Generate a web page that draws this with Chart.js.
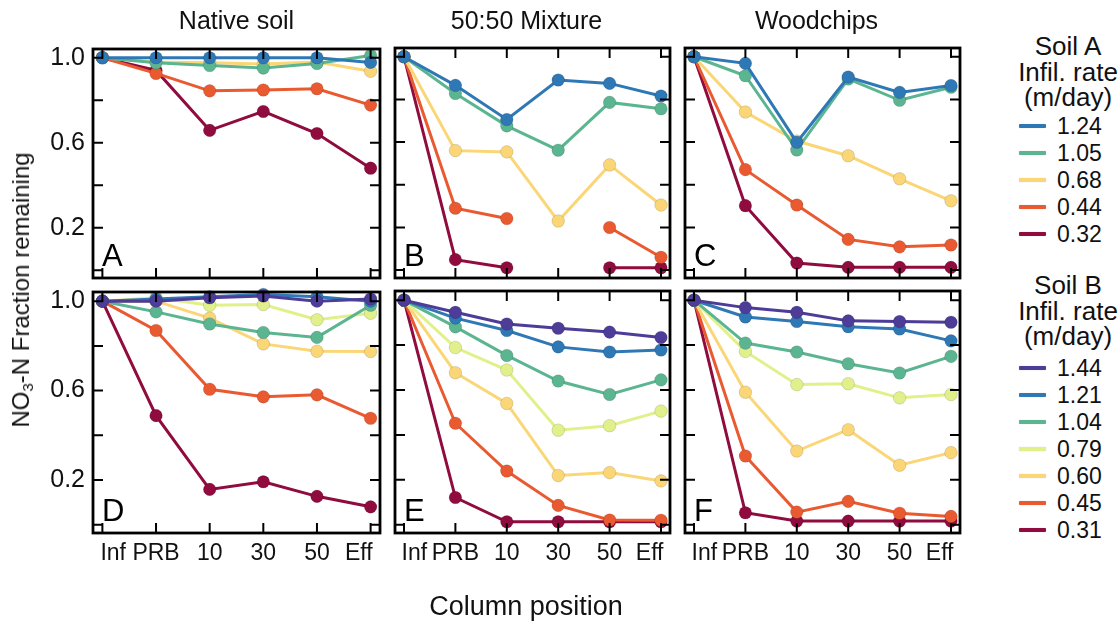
<!DOCTYPE html>
<html><head><meta charset="utf-8">
<script src="https://cdn.jsdelivr.net/npm/chart.js@4.4.1/dist/chart.umd.min.js"></script>
<style>
html,body{margin:0;padding:0;background:#fff;}
body{width:1120px;height:625px;position:relative;overflow:hidden;font-family:"Liberation Sans",Arial,Helvetica,sans-serif;color:#111;}
canvas{position:absolute;}
.t{position:absolute;white-space:nowrap;line-height:1;transform:translate(-50%,-50%);}
.lt{position:absolute;white-space:nowrap;line-height:1;transform:translateY(-50%);}
.ln{position:absolute;height:4px;border-radius:1px;box-shadow:0 0 1px rgba(0,0,0,0.25);}
</style></head><body>
<script>
// ---------- data ----------
const positions = ['Inf', 'PRB', '10', '30', '50', 'Eff'];
const yTickValues = [0, 0.2, 0.4, 0.6, 0.8, 1.0];
const yTickLabels = ['', '0.2', '', '0.6', '', '1.0'];
const panelTitles = ['Native soil', '50:50 Mixture', 'Woodchips'];
const panelLetters = ['A', 'B', 'C', 'D', 'E', 'F'];

const soilARates = ['1.24', '1.05', '0.68', '0.44', '0.32'];
const soilAColors = ['#2f78b6', '#5cb591', '#fbd676', '#ea5a31', '#900b3e'];
const soilBRates = ['1.44', '1.21', '1.04', '0.79', '0.60', '0.45', '0.31'];
const soilBColors = ['#4d3c98', '#2f78b6', '#5cb591', '#e1f08a', '#fbd676', '#ea5a31', '#900b3e'];

// Soil A panels (rows follow soilARates)
const panelA = [
  [1.0, 1.0, 1.0, 1.0, 1.0, 0.978],
  [1.0, 0.976, 0.963, 0.951, 0.973, 1.01],
  [1.0, 0.98, 0.976, 0.97, 0.98, 0.936],
  [1.0, 0.926, 0.844, 0.848, 0.854, 0.777],
  [1.0, 0.94, 0.658, 0.747, 0.643, 0.48]
];
const panelB = [
  [1.0, 0.866, 0.706, 0.891, 0.875, 0.816],
  [1.0, 0.828, 0.676, 0.562, 0.786, 0.756],
  [1.0, 0.560, 0.554, 0.230, 0.493, 0.305],
  [1.0, 0.290, 0.242, null, 0.200, 0.060],
  [1.0, 0.049, 0.011, null, 0.011, 0.011]
];
const panelC = [
  [1.0, 0.969, 0.599, 0.905, 0.833, 0.865],
  [1.0, 0.911, 0.563, 0.896, 0.796, 0.857],
  [1.0, 0.741, 0.605, 0.536, 0.428, 0.325],
  [1.0, 0.471, 0.305, 0.144, 0.109, 0.118],
  [1.0, 0.302, 0.033, 0.013, 0.013, 0.013]
];
// Soil B panels (rows follow soilBRates)
const panelD = [
  [1.0, 1.0, 1.015, 1.023, 1.0, 1.01],
  [1.0, 1.01, 1.02, 1.03, 1.02, 1.0],
  [1.0, 0.952, 0.898, 0.860, 0.838, 0.982],
  [1.0, 1.015, 0.982, 0.985, 0.917, 0.946],
  [1.0, 1.0, 0.924, 0.809, 0.776, 0.775],
  [1.0, 0.869, 0.606, 0.572, 0.581, 0.476],
  [1.0, 0.488, 0.158, 0.192, 0.127, 0.080]
];
const panelE = [
  [1.0, 0.946, 0.894, 0.875, 0.858, 0.834],
  [1.0, 0.920, 0.865, 0.792, 0.769, 0.778],
  [1.0, 0.881, 0.754, 0.640, 0.580, 0.645],
  [1.0, 0.789, 0.689, 0.421, 0.441, 0.506],
  [1.0, 0.677, 0.540, 0.219, 0.232, 0.195],
  [1.0, 0.452, 0.239, 0.086, 0.021, 0.020],
  [1.0, 0.121, 0.013, 0.013, 0.013, 0.013]
];
const panelF = [
  [1.0, 0.967, 0.946, 0.908, 0.905, 0.902],
  [1.0, 0.925, 0.905, 0.882, 0.872, 0.819],
  [1.0, 0.809, 0.769, 0.717, 0.676, 0.750],
  [1.0, 0.772, 0.624, 0.628, 0.565, 0.580],
  [1.0, 0.590, 0.328, 0.423, 0.265, 0.321],
  [1.0, 0.306, 0.056, 0.104, 0.051, 0.037],
  [1.0, 0.053, 0.016, 0.016, 0.016, 0.016]
];

// ---------- layout ----------
const FONT = '"Liberation Sans", Arial, Helvetica, sans-serif';
const X_TICK_SIZE = 23, Y_TICK_SIZE = 25;
const frameLeft = [93, 383, 673];
const frameW = 287;
const frameTop = [48, 291];
const frameH = 242;
const yMin = -0.037, yMax = 1.041;
const xMin = -0.175, xMax = 5.175;
const pxPerUnit = frameW / (xMax - xMin);

// first label starts near its tick, last label ends near its tick
const measureCtx = document.createElement('canvas').getContext('2d');
measureCtx.font = X_TICK_SIZE + 'px ' + FONT;
const xLabelValues = positions.map((p, i) => {
  const half = (measureCtx.measureText(p).width / 2 - 2) / pxPerUnit;
  if (i === 0) return i + half;
  if (i === positions.length - 1) return i - half;
  return i;
});

const framePlugin = {
  id: 'frame',
  afterDraw(chart, args, opts) {
    const ctx = chart.ctx, a = chart.chartArea, x = chart.scales.x, y = chart.scales.y;
    ctx.save();
    ctx.strokeStyle = '#000';
    ctx.lineWidth = 2;
    ctx.beginPath();
    positions.forEach((p, i) => {
      const px = x.getPixelForValue(i);
      ctx.moveTo(px, a.bottom); ctx.lineTo(px, a.bottom - 10);
      ctx.moveTo(px, a.top); ctx.lineTo(px, a.top + 10);
    });
    yTickValues.forEach(v => {
      const py = y.getPixelForValue(v);
      ctx.moveTo(a.left, py); ctx.lineTo(a.left + 10, py);
      ctx.moveTo(a.right, py); ctx.lineTo(a.right - 10, py);
    });
    ctx.stroke();
    ctx.lineWidth = 2.8;
    ctx.strokeRect(a.left, a.top, a.right - a.left, a.bottom - a.top);
    ctx.fillStyle = '#000';
    ctx.font = '31px ' + FONT;
    ctx.textBaseline = 'alphabetic';
    ctx.textAlign = 'left';
    ctx.fillText(opts.letter, a.left + 9, a.bottom - 12);
    ctx.restore();
  }
};

function makePanel(idx, rows, rates, colors) {
  const col = idx % 3, row = Math.floor(idx / 3);
  const fl = frameLeft[col], ft = frameTop[row];
  const showY = col === 0, showX = row === 1;
  const cl = showY ? 0 : fl - 12;
  const ct = ft - 22;
  const cr = fl + frameW + 12;
  const cb = showX ? 592 : ft + frameH + 12;
  const cv = document.createElement('canvas');
  cv.width = cr - cl; cv.height = cb - ct;
  cv.style.left = cl + 'px'; cv.style.top = ct + 'px';
  cv.style.width = (cr - cl) + 'px'; cv.style.height = (cb - ct) + 'px';
  document.body.appendChild(cv);
  const yAxisW = fl - cl;
  const xAxisH = cb - (ft + frameH);
  const datasets = rows.map((vals, k) => ({
    label: rates[k],
    data: vals.map((v, i) => ({ x: i, y: v })),
    borderColor: colors[k],
    backgroundColor: colors[k],
    pointBackgroundColor: colors[k],
    pointBorderColor: 'rgba(0,0,0,0.12)',
    pointBorderWidth: 1,
    pointRadius: 6.3,
    pointHoverRadius: 6.3,
    borderWidth: 3,
    spanGaps: false,
    tension: 0,
    clip: false
  }));
  new Chart(cv, {
    type: 'line',
    data: { datasets },
    plugins: [framePlugin],
    options: {
      responsive: false,
      animation: false,
      events: [],
      layout: { padding: { left: showY ? 0 : 12, top: 22, right: 12, bottom: showX ? 0 : 12 } },
      plugins: { legend: { display: false }, tooltip: { enabled: false }, frame: { letter: panelLetters[idx] } },
      scales: {
        x: {
          type: 'linear', min: xMin, max: xMax, display: showX,
          afterBuildTicks: s => { s.ticks = xLabelValues.map(v => ({ value: v })); },
          afterFit: s => { s.height = xAxisH; },
          grid: { display: false, drawTicks: false },
          border: { display: false },
          ticks: {
            autoSkip: false, maxRotation: 0, padding: 7, color: '#111',
            font: { family: FONT, size: X_TICK_SIZE },
            callback: (v, i) => positions[i]
          }
        },
        y: {
          type: 'linear', min: yMin, max: yMax, display: showY,
          afterBuildTicks: s => { s.ticks = yTickValues.map(v => ({ value: v })); },
          afterFit: s => { s.width = yAxisW; },
          grid: { display: false, drawTicks: false },
          border: { display: false },
          ticks: {
            autoSkip: false, padding: 8, color: '#111',
            font: { family: FONT, size: Y_TICK_SIZE },
            callback: (v, i) => yTickLabels[i]
          }
        }
      }
    }
  });
}

makePanel(0, panelA, soilARates, soilAColors);
makePanel(1, panelB, soilARates, soilAColors);
makePanel(2, panelC, soilARates, soilAColors);
makePanel(3, panelD, soilBRates, soilBColors);
makePanel(4, panelE, soilBRates, soilBColors);
makePanel(5, panelF, soilBRates, soilBColors);

// ---------- text ----------
function addText(html, x, y, size, cls, extra) {
  const d = document.createElement('div');
  d.className = cls || 't';
  d.innerHTML = html;
  d.style.left = x + 'px'; d.style.top = y + 'px';
  d.style.fontSize = size + 'px';
  if (extra) Object.assign(d.style, extra);
  document.body.appendChild(d);
  return d;
}
panelTitles.forEach((t, i) => addText(t, frameLeft[i] + frameW / 2, 20, 25));
addText('Column position', 526, 606, 27);
addText('NO<sub style="font-size:15px;vertical-align:-4px">3</sub>-N Fraction remaining', 22, 290, 24, 't',
  { transform: 'translate(-50%,-50%) rotate(-90deg)' });

function addLegend(titleLines, titleY, rates, colors, itemY) {
  titleLines.forEach((s, i) => addText(s, 1068, titleY + i * 25.5, 26));
  rates.forEach((r, k) => {
    const y = itemY + k * 27;
    const l = document.createElement('div');
    l.className = 'ln';
    l.style.left = '1019px'; l.style.width = '27px'; l.style.top = (y - 2) + 'px';
    l.style.background = colors[k];
    document.body.appendChild(l);
    addText(r, 1057, y, 23, 'lt');
  });
}
addLegend(['Soil A', 'Infil. rate', '(m/day)'], 46, soilARates, soilAColors, 126);
addLegend(['Soil B', 'Infil. rate', '(m/day)'], 285, soilBRates, soilBColors, 368);
</script>
</body></html>
